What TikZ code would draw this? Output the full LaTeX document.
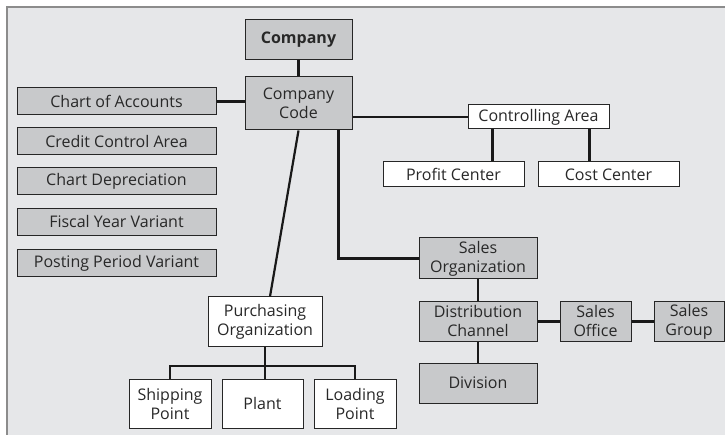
\documentclass[tikz,border=0pt]{standalone}
\usepackage{fontspec}
\setmainfont{Open Sans}
\definecolor{panelgray}{RGB}{230,231,233}
\definecolor{boxgray}{RGB}{200,201,203}
\definecolor{rimgray}{RGB}{140,140,140}
\definecolor{textgray}{RGB}{40,40,40}
\tikzset{
    unit/.style={draw=black!85,line width=1pt,text=textgray,align=center,
        inner sep=0pt,font=\fontsize{16}{19}\selectfont},
    grayunit/.style={unit,fill=boxgray},
    whiteunit/.style={unit,fill=white},
    link/.style={line width=2.2pt,black!90}
}
\begin{document}
\begin{tikzpicture}[x=1pt,y=-1pt]
        \useasboundingbox (0,0) rectangle (725,435);
        %% panel
        \fill[panelgray] (7,7) rectangle (725,435);
        \draw[rimgray,line width=2pt] (725,7) -- (7,7) -- (7,435);
        %% company and company code
        \node[grayunit,minimum width=107,minimum height=40,font=\fontsize{16}{19}\selectfont\bfseries] (comp) at (298.5,40) {Company};
        \node[grayunit,minimum width=107,minimum height=53] (cc) at (298.5,103.5) {Company\\Code};
        %% left column
        \node[grayunit,minimum width=199,minimum height=27] (coa) at (116.5,101.5) {Chart of Accounts};
        \node[grayunit,minimum width=199,minimum height=27] (cca) at (116.5,141.5) {Credit Control Area};
        \node[grayunit,minimum width=199,minimum height=27] (cdep) at (116.5,181.5) {Chart Depreciation};
        \node[grayunit,minimum width=199,minimum height=27] (fyv) at (116.5,222) {Fiscal Year Variant};
        \node[grayunit,minimum width=199,minimum height=27] (ppv) at (116.5,263) {Posting Period Variant};
        %% controlling
        \node[whiteunit,minimum width=141,minimum height=24] (ctrl) at (538.5,117) {Controlling Area};
        \node[whiteunit,minimum width=141,minimum height=25] (pc) at (453.5,174.5) {Profit Center};
        \node[whiteunit,minimum width=141,minimum height=25] (costc) at (608.5,174.5) {Cost Center};
        %% sales
        \node[grayunit,minimum width=118,minimum height=41] (so) at (478,258.5) {Sales\\Organization};
        \node[grayunit,minimum width=118,minimum height=39] (dc) at (478,321.5) {Distribution\\Channel};
        \node[grayunit,minimum width=118,minimum height=40] (div) at (478,383) {Division};
        \node[grayunit,minimum width=71,minimum height=39] (soff) at (595.5,321.5) {Sales\\Office};
        \node[grayunit,minimum width=70,minimum height=39] (sg) at (689,321.5) {Sales\\Group};
        %% purchasing
        \node[whiteunit,minimum width=114,minimum height=49] (po) at (265,321.5) {Purchasing\\Organization};
        \node[whiteunit,minimum width=82,minimum height=49] (sp) at (170,403.5) {Shipping\\Point};
        \node[whiteunit,minimum width=81,minimum height=49] (plant) at (262.5,403.5) {Plant};
        \node[whiteunit,minimum width=82,minimum height=49] (lp) at (355,403.5) {Loading\\Point};
        \coordinate (bus) at (0,366);
        %% links
        \draw[link] (comp) -- (cc);
        \draw[link] (coa) -- (coa -| cc.west);
        \draw[link] (cc.east |- ctrl) -- (ctrl.west);
        \draw[link] ([xshift=25pt]ctrl.south west) -- ([xshift=25pt]ctrl.south west |- pc.north);
        \draw[link] ([xshift=-20pt]ctrl.south east) -- ([xshift=-20pt]ctrl.south east |- costc.north);
        \draw[link] ([xshift=-14pt]cc.south east) |- (so.west);
        \draw[link] (cc.south) -- ([xshift=5pt]po.north);
        \draw[link] (so) -- (dc);
        \draw[link] (dc) -- (div);
        \draw[link] (dc) -- (soff);
        \draw[link] (soff) -- (sg);
        \draw[link] (po.south) -- (po.south |- plant.north);
        \draw[link] (sp.north) -- (sp.north |- bus) -- (lp.north |- bus) -- (lp.north);
    \end{tikzpicture}
\end{document}
